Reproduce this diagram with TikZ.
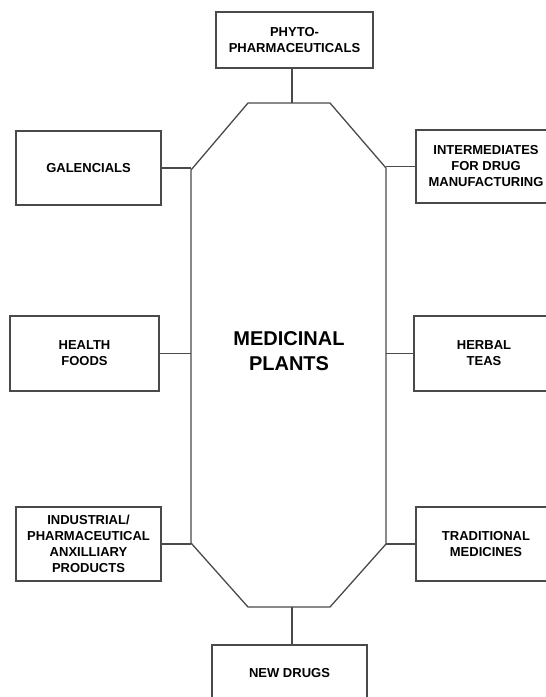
\documentclass[tikz,border=0pt]{standalone}
\usepackage{fontspec}
\setmainfont{Liberation Sans}
\definecolor{linegray}{HTML}{4A4A4A}
\begin{document}
\begin{tikzpicture}[x=1pt,y=-1pt,
  line width=1.3pt,
  box/.style={draw=linegray, align=center, inner sep=0pt,
    font=\bfseries\fontsize{13}{16}\selectfont, text=black},
  conn/.style={draw=linegray},
  title/.style={align=center, font=\bfseries\fontsize{20}{25}\selectfont, text=black}]
\useasboundingbox (0,0) rectangle (546,697);
\clip (0,0) rectangle (546,697);
% boxes
\node[box, minimum width=157pt, minimum height=56pt] (top) at (294.5,40) {PHYTO-\\PHARMACEUTICALS};
\node[box, minimum width=145pt, minimum height=74pt] (gal) at (88.5,168) {GALENCIALS};
\node[box, minimum width=140pt, minimum height=73pt] (inter) at (486,166.5) {INTERMEDIATES\\FOR DRUG\\MANUFACTURING};
\node[box, minimum width=149pt, minimum height=75pt] (health) at (84.5,353.5) {HEALTH\\FOODS};
\node[box, minimum width=140pt, minimum height=75pt] (herbal) at (484,353.5) {HERBAL\\TEAS};
\node[box, minimum width=145pt, minimum height=74pt] (ind) at (88.5,544) {INDUSTRIAL/\\PHARMACEUTICAL\\ANXILLIARY\\PRODUCTS};
\node[box, minimum width=140pt, minimum height=74pt] (trad) at (486,544) {TRADITIONAL\\MEDICINES};
\node[box, minimum width=155pt, minimum height=56pt] (new) at (289.5,673) {NEW DRUGS};
% octagon
\coordinate (o1) at (248,103);
\coordinate (o2) at (330,103);
\coordinate (o3) at (386,168);
\coordinate (o4) at (386,544);
\coordinate (o5) at (330,607);
\coordinate (o6) at (248,607);
\coordinate (o7) at (191,543);
\coordinate (o8) at (191,170);
\draw[conn] (o1) -- (o2) -- (o3) -- (o4) -- (o5) -- (o6) -- (o7) -- (o8) -- cycle;
\node[title] (mp) at (289,351) {MEDICINAL\\PLANTS};
% connectors
\coordinate (tc) at (292,103);
\coordinate (bc) at (292,607);
\draw[conn] (top.south -| tc) -- (tc);
\draw[conn] (bc) -- (new.north -| bc);
\draw[conn] (gal.east) -- (gal.east -| o8);
\draw[conn] (health.east) -- (health.east -| o8);
\draw[conn] (ind.east) -- (ind.east -| o7);
\draw[conn] (inter.west) -- (inter.west -| o3);
\draw[conn] (herbal.west) -- (herbal.west -| o3);
\draw[conn] (trad.west) -- (trad.west -| o4);
\end{tikzpicture}
\end{document}
